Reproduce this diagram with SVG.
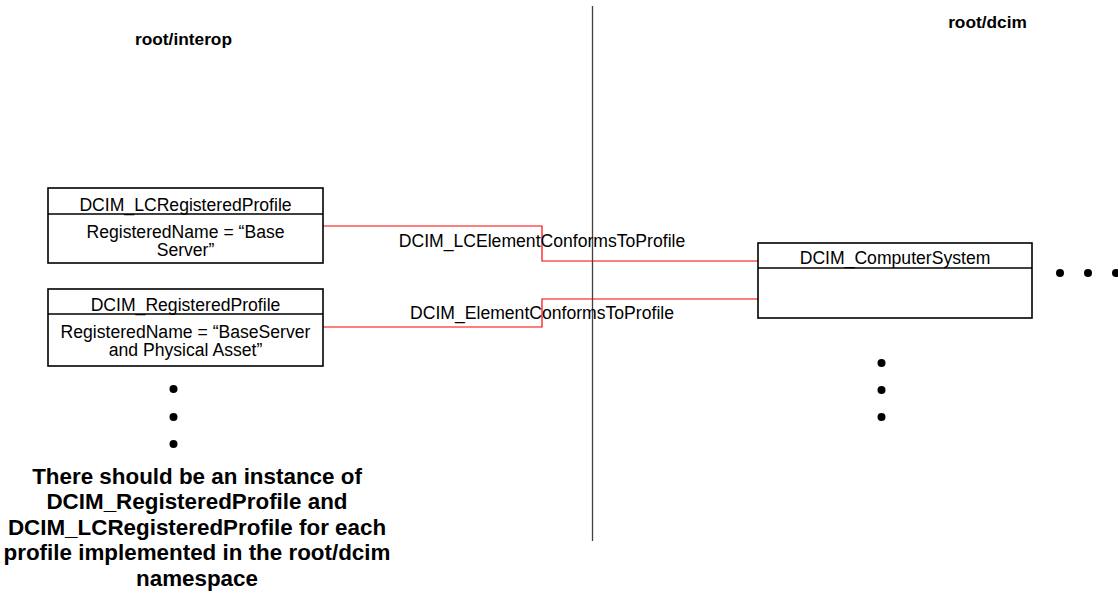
<svg xmlns="http://www.w3.org/2000/svg" width="1118" height="602" viewBox="0 0 1118 602">
<style>
.box{fill:#fff;stroke:#000;stroke-width:1.6}
.div{stroke:#000;stroke-width:1.6}
.t{font-family:"Liberation Sans",Arial,sans-serif;font-size:17.6px;fill:#000;text-anchor:middle}
.b{font-family:"Liberation Sans",Arial,sans-serif;font-weight:bold;fill:#000;text-anchor:middle}
.c{fill:none;stroke:#ff0000;stroke-width:1.2}
.dot{fill:#000}
</style>
<rect width="1118" height="602" fill="#fff"/>
<line x1="592.5" y1="6" x2="592.5" y2="541" stroke="#404040" stroke-width="1.3"/>
<text class="b" x="183.5" y="45" font-size="17.3">root/interop</text>
<text class="b" x="987.5" y="28" font-size="17.3">root/dcim</text>
<g id="connectors">
<polyline class="c" points="323,226 542,226 542,261 758,261"/>
<polyline class="c" points="323,327 542,327 542,299 758,299"/>
<text class="t" x="542" y="247">DCIM_LCElementConformsToProfile</text>
<text class="t" x="542" y="319">DCIM_ElementConformsToProfile</text>
</g>
<g id="lcprofile">
<rect class="box" x="48" y="188" width="275" height="75"/>
<line class="div" x1="48" y1="214" x2="323" y2="214"/>
<text class="t" x="185.5" y="211">DCIM_LCRegisteredProfile</text>
<text class="t" x="185.5" y="238">RegisteredName = “Base</text>
<text class="t" x="185.5" y="256">Server”</text>
</g>
<g id="regprofile">
<rect class="box" x="48" y="289" width="275" height="77"/>
<line class="div" x1="48" y1="314" x2="323" y2="314"/>
<text class="t" x="185.5" y="311">DCIM_RegisteredProfile</text>
<text class="t" x="185.5" y="338">RegisteredName = “BaseServer</text>
<text class="t" x="185.5" y="356">and Physical Asset”</text>
</g>
<g id="computersystem">
<rect class="box" x="758" y="243" width="274" height="75"/>
<line class="div" x1="758" y1="268" x2="1032" y2="268"/>
<text class="t" x="895" y="264">DCIM_ComputerSystem</text>
</g>
<g id="dots">
<circle class="dot" cx="173.5" cy="389" r="4"/>
<circle class="dot" cx="173.5" cy="417" r="4"/>
<circle class="dot" cx="173.5" cy="444" r="4"/>
<circle class="dot" cx="881.5" cy="363" r="4"/>
<circle class="dot" cx="881.5" cy="390" r="4"/>
<circle class="dot" cx="881.5" cy="417" r="4"/>
<circle class="dot" cx="1060" cy="273" r="4"/>
<circle class="dot" cx="1088" cy="273" r="4"/>
<circle class="dot" cx="1116" cy="273" r="4"/>
</g>
<g id="note">
<text class="b" font-size="22.4" x="197" y="484">There should be an instance of</text>
<text class="b" font-size="22.4" x="197" y="509">DCIM_RegisteredProfile and</text>
<text class="b" font-size="22.4" x="197" y="535">DCIM_LCRegisteredProfile for each</text>
<text class="b" font-size="22.4" x="197" y="560">profile implemented in the root/dcim</text>
<text class="b" font-size="22.4" x="197" y="586">namespace</text>
</g>
</svg>
